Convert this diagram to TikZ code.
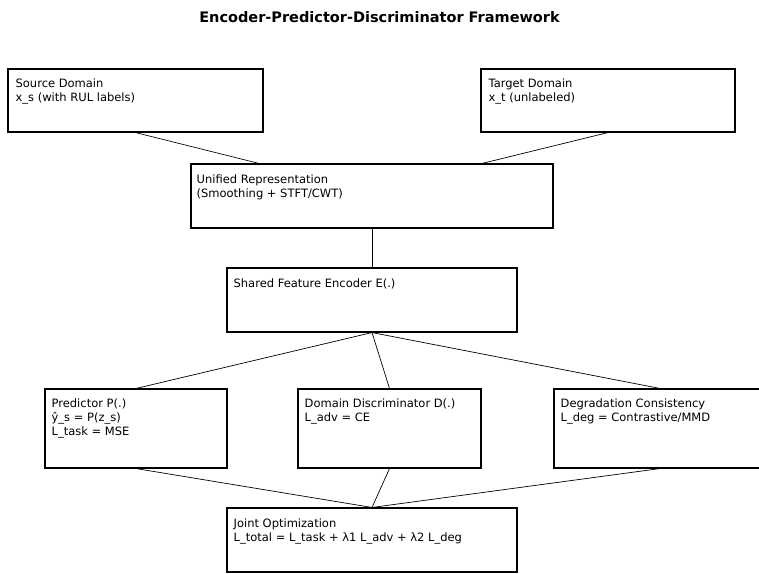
\documentclass[tikz,border=0pt]{standalone}
\usepackage{fontspec}
\setmainfont{DejaVu Sans}
\begin{document}
\begin{tikzpicture}[
    x=1pt, y=-1pt,
    box/.style={draw, line width=1.1pt, inner sep=0pt, minimum width=#1, minimum height=64pt},
    box/.default=290pt,
    txt/.style={anchor=north west, align=left, inner sep=0pt, font=\fontsize{11.5}{14}\selectfont},
    link/.style={line width=0.7pt}
]
\useasboundingbox (0,0) rectangle (759,573);

% Title
\node[font=\bfseries\fontsize{14.5}{17}\selectfont] (title) at (379.5,17) {Encoder-Predictor-Discriminator Framework};

% Inputs
\node[box=255pt, minimum height=63pt] (src) at (135.5,100.5) {};
\node[txt] (srctxt) at ([xshift=8pt,yshift=-10pt]src.north west) {Source Domain\\x\_s (with RUL labels)};
\node[box=254pt, minimum height=63pt] (tgt) at (608,100.5) {};
\node[txt] (tgttxt) at ([xshift=8pt,yshift=-10pt]tgt.north west) {Target Domain\\x\_t (unlabeled)};

% Representation and encoder
\node[box=362pt] (uni) at (372,196) {};
\node[txt] (unitxt) at ([xshift=6pt,yshift=-11pt]uni.north west) {Unified Representation\\(Smoothing + STFT/CWT)};
\node[box] (enc) at (372,300) {};
\node[txt] (enctxt) at ([xshift=7pt,yshift=-11pt]enc.north west) {Shared Feature Encoder E(.)};

% Heads
\node[box=182pt, minimum height=79pt] (pred) at (136,428.5) {};
\node[txt] (predtxt) at ([xshift=7pt,yshift=-10pt]pred.north west) {Predictor P(.)\\ŷ\_s = P(z\_s)\\L\_task = MSE};
\node[box=183pt, minimum height=79pt] (disc) at (389.5,428.5) {};
\node[txt] (disctxt) at ([xshift=7pt,yshift=-10pt]disc.north west) {Domain Discriminator D(.)\\L\_adv = CE};
\node[box=212pt, minimum height=79pt] (deg) at (660,428.5) {};
\node[txt] (degtxt) at ([xshift=7pt,yshift=-10pt]deg.north west) {Degradation Consistency\\L\_deg = Contrastive/MMD};

% Objective
\node[box] (joint) at (372,540) {};
\node[txt] (jointtxt) at ([xshift=7pt,yshift=-11pt]joint.north west) {Joint Optimization\\L\_total = L\_task + λ1 L\_adv + λ2 L\_deg};

% Links
\coordinate (unil) at ([xshift=-113pt]uni.north);
\coordinate (unir) at ([xshift=110pt]uni.north);
\draw[link] (src.south) -- (unil);
\draw[link] (tgt.south) -- (unir);
\draw[link] (uni.south) -- (enc.north);
\draw[link] (enc.south) -- (pred.north);
\draw[link] (enc.south) -- (disc.north);
\draw[link] (enc.south) -- (deg.north);
\draw[link] (pred.south) -- (joint.north);
\draw[link] (disc.south) -- (joint.north);
\draw[link] (deg.south) -- (joint.north);
\end{tikzpicture}
\end{document}
